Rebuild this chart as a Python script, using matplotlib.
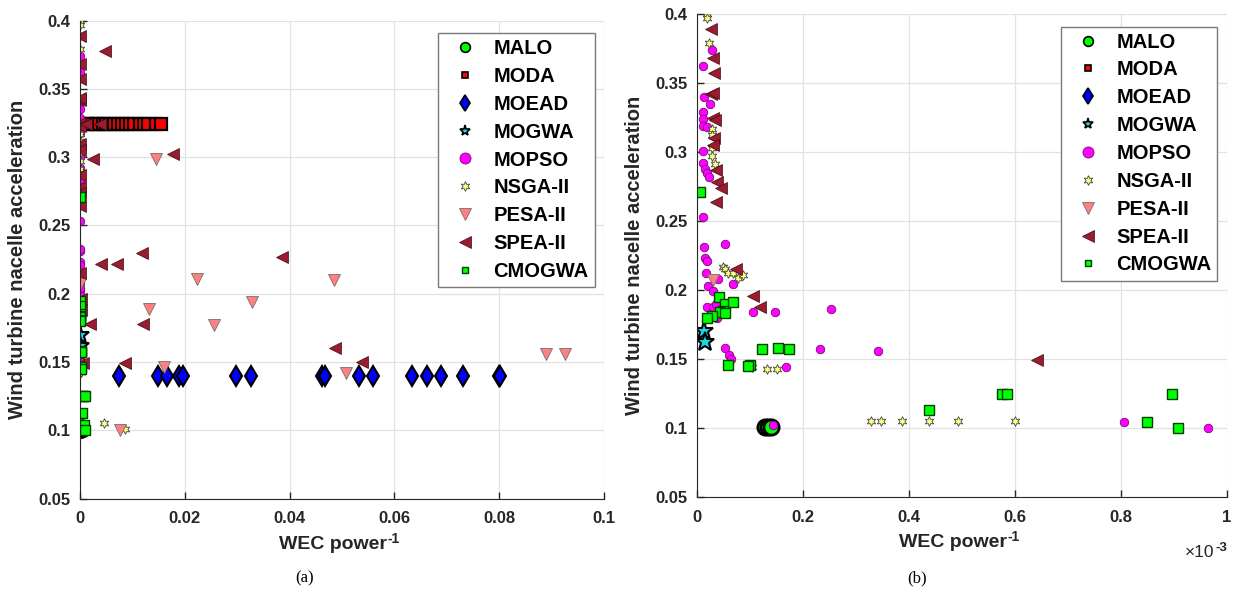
import numpy as np
import matplotlib
matplotlib.use("agg")
import matplotlib.pyplot as plt
from matplotlib.lines import Line2D
from matplotlib.ticker import FuncFormatter

plt.rcParams['font.family'] = ['Liberation Sans', 'DejaVu Sans']

# ---- data (x = WEC power^-1, y = nacelle acceleration) ----
malo_x = [0.128e-3, 0.134e-3, 0.140e-3]
malo_y = [0.101, 0.101, 0.101]

moda_x = [0.0011, 0.0016, 0.0022, 0.0030, 0.0036, 0.0044, 0.0050, 0.0057, 0.0065,
          0.0072, 0.0080, 0.0088, 0.0096, 0.0103, 0.0114, 0.0122, 0.0130, 0.0145, 0.0154]
moda_y = [0.324] * len(moda_x)

moead_x = [0.0074, 0.0149, 0.0166, 0.0188, 0.0196, 0.0297, 0.0326, 0.0461, 0.0467,
           0.0533, 0.0560, 0.0633, 0.0662, 0.0689, 0.0731, 0.0799, 0.0802]
moead_y = [0.140] * len(moead_x)

mogwa_x = [0.013e-3, 0.015e-3]
mogwa_y = [0.170, 0.162]

mopso_x = [0.028e-3, 0.011e-3, 0.013e-3, 0.025e-3, 0.011e-3, 0.011e-3, 0.011e-3, 0.019e-3,
           0.011e-3, 0.011e-3, 0.015e-3, 0.019e-3, 0.023e-3, 0.011e-3, 0.013e-3, 0.053e-3,
           0.015e-3, 0.019e-3, 0.017e-3, 0.040e-3, 0.021e-3, 0.030e-3, 0.068e-3, 0.019e-3,
           0.030e-3, 0.036e-3, 0.038e-3, 0.106e-3, 0.147e-3, 0.253e-3, 0.053e-3, 0.060e-3,
           0.064e-3, 0.232e-3, 0.342e-3, 0.168e-3, 0.143e-3, 0.806e-3, 0.964e-3]
mopso_y = [0.374, 0.362, 0.340, 0.335, 0.329, 0.324, 0.319, 0.318,
           0.301, 0.292, 0.288, 0.285, 0.282, 0.253, 0.231, 0.233,
           0.223, 0.221, 0.212, 0.208, 0.203, 0.199, 0.204, 0.188,
           0.188, 0.190, 0.180, 0.184, 0.184, 0.186, 0.158, 0.153,
           0.150, 0.157, 0.156, 0.144, 0.102, 0.104, 0.100]

nsga_x = [0.018e-3, 0.019e-3, 0.023e-3, 0.028e-3, 0.028e-3, 0.028e-3, 0.028e-3, 0.034e-3,
          0.049e-3, 0.053e-3, 0.059e-3, 0.068e-3, 0.077e-3, 0.087e-3, 0.104e-3, 0.132e-3,
          0.151e-3, 0.328e-3, 0.347e-3, 0.387e-3, 0.438e-3, 0.492e-3, 0.600e-3,
          0.0046, 0.0085]
nsga_y = [0.400, 0.397, 0.379, 0.317, 0.312, 0.303, 0.297, 0.291,
          0.217, 0.215, 0.212, 0.212, 0.209, 0.211, 0.144, 0.143,
          0.143, 0.105, 0.105, 0.105, 0.105, 0.105, 0.105,
          0.105, 0.101]

pesa_x = [0.030e-3, 0.0145, 0.0223, 0.0131, 0.0255, 0.0328, 0.0160, 0.0077,
          0.0484, 0.0508, 0.0889, 0.0925]
pesa_y = [0.207, 0.299, 0.211, 0.189, 0.177, 0.194, 0.146, 0.100,
          0.210, 0.142, 0.156, 0.156]

spea_x = [0.026e-3, 0.030e-3, 0.032e-3, 0.026e-3, 0.030e-3, 0.030e-3, 0.034e-3, 0.032e-3,
          0.030e-3, 0.036e-3, 0.038e-3, 0.045e-3, 0.036e-3, 0.074e-3, 0.106e-3, 0.119e-3,
          0.642e-3, 0.0048, 0.0012, 0.0038, 0.0025, 0.0177, 0.0118, 0.0040, 0.0070,
          0.0019, 0.0120, 0.0086, 0.0385, 0.0486, 0.0539]
spea_y = [0.389, 0.368, 0.357, 0.342, 0.343, 0.325, 0.323, 0.310,
          0.305, 0.287, 0.278, 0.274, 0.264, 0.215, 0.196, 0.188,
          0.149, 0.378, 0.3245, 0.324, 0.299, 0.302, 0.230, 0.222, 0.222,
          0.178, 0.178, 0.149, 0.227, 0.160, 0.150]

cmogwa_x = [0.006e-3, 0.042e-3, 0.053e-3, 0.068e-3, 0.049e-3, 0.043e-3, 0.053e-3, 0.028e-3,
            0.019e-3, 0.123e-3, 0.153e-3, 0.174e-3, 0.058e-3, 0.100e-3, 0.096e-3, 0.438e-3,
            0.575e-3, 0.585e-3, 0.896e-3, 0.849e-3, 0.907e-3]
cmogwa_y = [0.271, 0.195, 0.190, 0.191, 0.185, 0.184, 0.183, 0.181,
            0.180, 0.157, 0.158, 0.157, 0.146, 0.146, 0.145, 0.113,
            0.125, 0.125, 0.125, 0.104, 0.100]

labels = ['MALO', 'MODA', 'MOEAD', 'MOGWA', 'MOPSO', 'NSGA-II', 'PESA-II', 'SPEA-II', 'CMOGWA']
xs = [malo_x, moda_x, moead_x, mogwa_x, mopso_x, nsga_x, pesa_x, spea_x, cmogwa_x]
ys = [malo_y, moda_y, moead_y, mogwa_y, mopso_y, nsga_y, pesa_y, spea_y, cmogwa_y]

# marker, size, face, edge, edge width, legend size
styles = [
    ('o', 11, '#00ff00', 'black', 2.0, 7),
    ('s', 8, '#ff0000', 'black', 1.6, 5),
    ('d', 10, '#0000ff', 'black', 1.5, 8),
    ('*', 14, '#1ad6e8', 'black', 1.5, 8),
    ('o', 6.2, '#ff00ff', '#5a0a5a', 0.5, 8),
    ((6, 1, 0), 7, '#ffff80', '#404040', 0.6, 7),
    ('v', 9, '#ff8080', '#707070', 0.6, 9),
    ('<', 9, '#9b1b30', '#3a0a10', 0.5, 9),
    ('s', 7.5, '#00ff00', '#004000', 1.0, 5),
]

tone = '#262626'


def draw(ax, xlim, xticks, xfmt):
    for x, y, st in zip(xs, ys, styles):
        ax.plot(x, y, ls='none', marker=st[0], ms=st[1], mfc=st[2], mec=st[3], mew=st[4])
    ax.set_xlim(xlim)
    ax.set_ylim(0.05, 0.4)
    ax.set_xticks(xticks)
    ax.set_yticks(np.arange(0.05, 0.401, 0.05))
    ax.xaxis.set_major_formatter(FuncFormatter(xfmt))
    ax.yaxis.set_major_formatter(FuncFormatter(lambda v, p: '%g' % round(v, 3)))
    [ax.spines[s].set_visible(False) for s in ['top', 'right']]
    [ax.spines[s].set_color(tone) for s in ['bottom', 'left']]
    ax.grid(True, color='#e2e2e2', lw=0.9)
    ax.set_axisbelow(True)
    ax.tick_params(direction='in', length=5, width=1, color=tone, labelsize=12,
                   labelcolor=tone, pad=7)
    ax.tick_params(axis='x', pad=9)
    for t in ax.get_xticklabels() + ax.get_yticklabels():
        t.set_fontweight('bold')
    ax.set_xlabel('WEC power', fontsize=14, fontweight='bold', color=tone, labelpad=7)
    ax.xaxis.label.set_x(0.5 - 9 / ax.get_position().width / 1234)
    ax.set_ylabel('Wind turbine nacelle acceleration', fontsize=14.5, fontweight='bold', color=tone, labelpad=8)

    handles = [Line2D([], [], ls='none', marker=st[0], ms=st[5], mfc=st[2], mec=st[3],
                      mew=min(st[4], 1.2)) for st in styles]
    lgd = ax.legend(handles, labels, loc='upper right', bbox_to_anchor=(0.982, 0.974),
                    borderaxespad=0, fancybox=False, framealpha=1, edgecolor='#7a7a7a',
                    prop={'weight': 'bold', 'size': 14.5}, labelspacing=0.44,
                    borderpad=0.3, handlelength=2.1, handletextpad=0.35, numpoints=1)
    lgd.get_frame().set_linewidth(1.0)


def superscript(fig, base, sup, size):
    # put a small bold exponent right after the top-right corner of a text
    bb = base.get_window_extent()
    fig.text((bb.x1 + 1) / 1234, (bb.y1 - 3) / 596, sup, fontsize=size, fontweight='bold',
             color=tone, ha='left', va='center')


fig = plt.figure(figsize=(12.34, 5.96), dpi=100)
ax1 = fig.add_axes([80 / 1234, 1 - 498.6 / 596, 524 / 1234, 478 / 596])
ax2 = fig.add_axes([697 / 1234, 1 - 497 / 596, 530 / 1234, 483 / 596])

draw(ax1, (0, 0.1), np.arange(0, 0.101, 0.02), lambda v, p: '%g' % round(v, 4))
draw(ax2, (0, 1e-3), np.arange(0, 1.01e-3, 0.2e-3), lambda v, p: '%g' % round(v * 1e3, 3))
exp_txt = ax2.text((1200 - 697) / 530, -0.115, '\u00d710', transform=ax2.transAxes,
                   ha='center', va='center', fontsize=12.5, color=tone)

fig.text(305 / 1234, 1 - 578 / 596, '(a)', family='Liberation Serif', fontsize=12, ha='center', va='center')
fig.text(917 / 1234, 1 - 578 / 596, '(b)', family='Liberation Serif', fontsize=12, ha='center', va='center')

fig.canvas.draw()
superscript(fig, ax1.xaxis.label, '-1', 10)
superscript(fig, ax2.xaxis.label, '-1', 10)
superscript(fig, exp_txt, '-3', 9.5)

fig.savefig('out.png', dpi=100)
